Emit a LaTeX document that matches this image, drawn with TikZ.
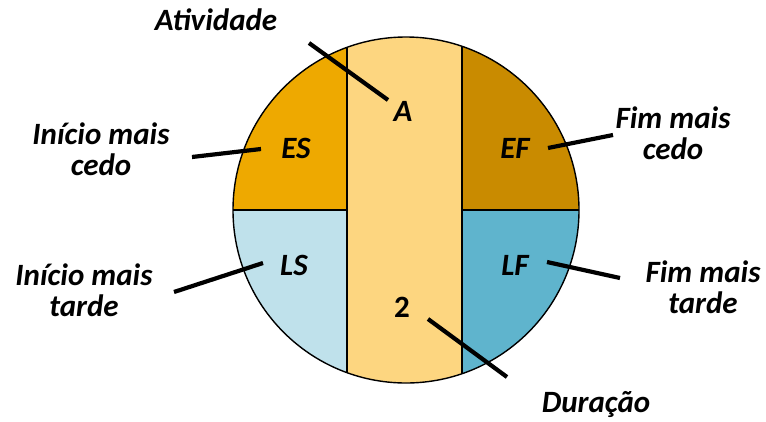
\documentclass[tikz,border=0pt]{standalone}
\usepackage{fontspec}
\setmainfont{Carlito}
\definecolor{esfill}{HTML}{EEA900}
\definecolor{effill}{HTML}{C98B00}
\definecolor{midfill}{HTML}{FDD680}
\definecolor{lsfill}{HTML}{BFE1EB}
\definecolor{lffill}{HTML}{5FB4CD}
\begin{document}
\begin{tikzpicture}[x=1pt,y=-1pt,
  lbl/.style={font=\fontsize{31}{31}\selectfont\bfseries\itshape, align=center, inner sep=0pt},
  val/.style={font=\fontsize{31}{31}\selectfont\bfseries, inner sep=0pt},
  lead/.style={line width=4.2pt},
  part/.style={line width=1.4pt}]
\useasboundingbox (0,0) rectangle (766,421);

% activity node: four quadrants and a central band
\begin{scope}
  \clip (406,210) circle [radius=173pt];
  \fill[esfill]  (230,30)  rectangle (347,210);
  \fill[lsfill]  (230,210) rectangle (347,390);
  \fill[effill]  (462,30)  rectangle (582,210);
  \fill[lffill]  (462,210) rectangle (582,390);
  \fill[midfill] (347,30)  rectangle (462,390);
  \draw[part] (230,210) -- (347,210);
  \draw[part] (462,210) -- (582,210);
  \draw[part] (347,30) -- (347,390);
  \draw[part] (462,30) -- (462,390);
\end{scope}
\draw[part] (406,210) circle [radius=173pt];

% values inside the node
\node[lbl] (a)  at (403,111) {A};
\node[lbl] (es) at (296,148) {ES};
\node[lbl] (ef) at (515,148) {EF};
\node[lbl] (ls) at (294,265) {LS};
\node[lbl] (lf) at (515,265) {LF};
\node[val] (d)  at (402,307) {2};

% captions
\node[lbl] (tAtiv) at (216,20)  {Atividade};
\node[lbl] (tES)   at (101,149) {Início mais\\cedo};
\node[lbl] (tLS)   at (84,290)  {Início mais\\tarde};
\node[lbl] (tEF)   at (673,133) {Fim mais\\cedo};
\node[lbl] (tLF)   at (703,287) {Fim mais\\tarde};
\node[lbl] (tDur)  at (596,404) {Duração};

% leader lines
\coordinate (a1) at (309,43);   \coordinate (a2) at (388,100);
\coordinate (e1) at (192,157);  \coordinate (e2) at (261,149);
\coordinate (l1) at (174,292);  \coordinate (l2) at (263,263);
\coordinate (f1) at (548,148);  \coordinate (f2) at (613,135);
\coordinate (g1) at (547,262);  \coordinate (g2) at (620,278);
\coordinate (d1) at (428,319);  \coordinate (d2) at (507,377);
\draw[lead] (a1) -- (a2);
\draw[lead] (e1) -- (e2);
\draw[lead] (l1) -- (l2);
\draw[lead] (f1) -- (f2);
\draw[lead] (g1) -- (g2);
\draw[lead] (d1) -- (d2);
\end{tikzpicture}
\end{document}
